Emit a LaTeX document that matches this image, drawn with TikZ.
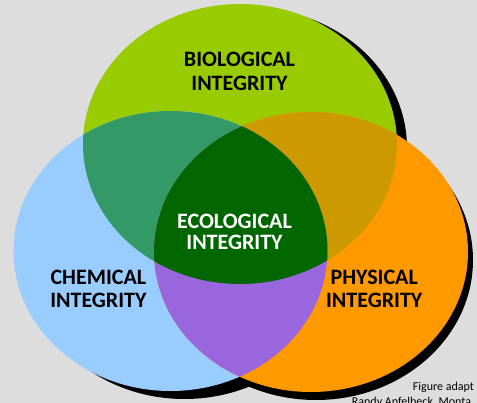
\documentclass[tikz,border=0pt]{standalone}
\usepackage{fontspec}
\setmainfont{Carlito}
\definecolor{bgcol}{HTML}{DDDDDD}
\definecolor{biocol}{HTML}{99CC00}
\definecolor{chemcol}{HTML}{99CCFF}
\definecolor{physcol}{HTML}{FF9900}
\definecolor{biochemcol}{HTML}{339966}
\definecolor{biophyscol}{HTML}{CC9900}
\definecolor{chemphyscol}{HTML}{9966DD}
\definecolor{ecocol}{HTML}{006600}
\def\GreenE{(240,144) ellipse [x radius=157pt, y radius=140pt]}
\def\BlueE{(170.5,251) ellipse [x radius=157pt, y radius=140pt]}
\def\OrangeE{(311,252) ellipse [x radius=157pt, y radius=140pt]}
\newcommand\twolines[3]{\fontsize{22}{#1}\selectfont\bfseries\vtop{\halign{\hfil##\hfil\cr #2\cr #3\cr}}}
\begin{document}
\begin{tikzpicture}[x=1pt,y=-1pt,
  lbl/.style={anchor=base, inner sep=0pt},
  foot/.style={font=\fontsize{12}{14}\selectfont, anchor=base west, inner sep=0pt}]
\useasboundingbox (0,0) rectangle (477,403);
\clip (0,0) rectangle (477,403);
\fill[bgcol] (0,0) rectangle (477,403);
% shadows
\fill[black] (250,148) ellipse [x radius=157pt, y radius=140pt];
\fill[black] (184.5,259) ellipse [x radius=157pt, y radius=140pt];
\fill[black] (316,260) ellipse [x radius=157pt, y radius=140pt];
% circles
\fill[biocol] \GreenE;
\fill[chemcol] \BlueE;
\fill[physcol] \OrangeE;
\begin{scope}\clip \GreenE; \fill[biochemcol] \BlueE; \end{scope}
\begin{scope}\clip \GreenE; \fill[biophyscol] \OrangeE; \end{scope}
\begin{scope}\clip \BlueE; \fill[chemphyscol] \OrangeE; \end{scope}
\begin{scope}\clip \GreenE; \clip \BlueE; \fill[ecocol] \OrangeE; \end{scope}
% labels
\node[lbl] (bio) at (239.5,66.7) {\twolines{24}{BIOLOGICAL}{INTEGRITY}};
\node[lbl, text=white] (eco) at (234.5,228.3) {\twolines{21}{ECOLOGICAL}{INTEGRITY}};
\node[lbl] (chem) at (98.4,285) {\twolines{22.3}{CHEMICAL}{INTEGRITY}};
\node[lbl] (phys) at (374.2,285) {\twolines{22.3}{PHYSICAL}{INTEGRITY}};
\node[foot] (foot1) at (412.7,391) {Figure adapt};
\node[foot] (foot2) at (351.7,405.4) {Randy Apfelbeck, Monta};
\end{tikzpicture}
\end{document}
